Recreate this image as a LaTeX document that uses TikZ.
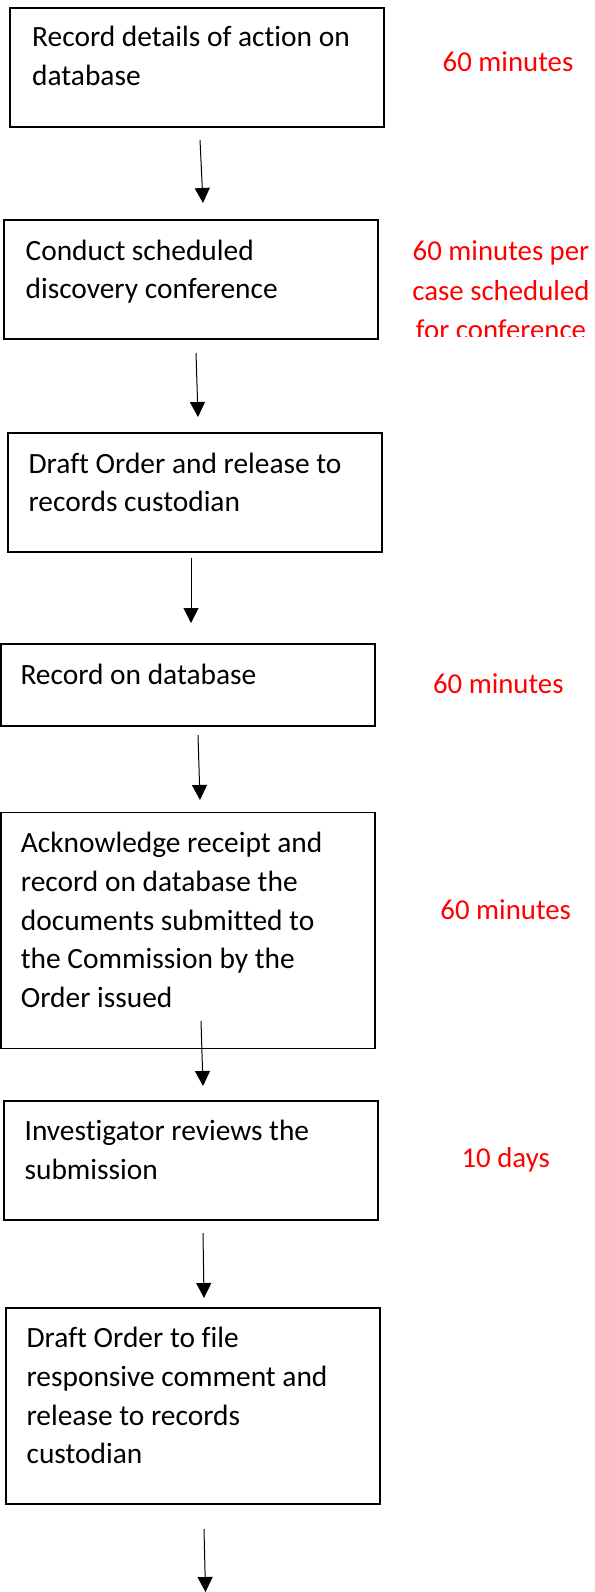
\documentclass[tikz,border=0pt]{standalone}
\usepackage{fontspec}
\setmainfont{Carlito}[Ligatures=CommonOff]
\usetikzlibrary{arrows.meta,calc}
\definecolor{redtxt}{RGB}{255,0,0}
\tikzset{
  stepbox/.style={draw=black, line width=1.6pt, rectangle, inner sep=0pt, outer sep=0pt, minimum width=374pt, anchor=north west},
  lbl/.style={font=\fontsize{29.4}{38.8}\selectfont, align=left, inner sep=0pt, anchor=base west, text=black},
  timelbl/.style={font=\fontsize{28.8}{39.5}\selectfont, align=center, inner sep=0pt, anchor=base, text=redtxt},
  flow/.style={line width=1pt, -{Triangle[length=15pt,width=15pt]}}
}
\begin{document}
\begin{tikzpicture}[x=1pt,y=-1pt]
\useasboundingbox (0,0) rectangle (594,1592);
% boxes
\node[stepbox, minimum height=119pt] (b1) at (10,8) {};
\node[stepbox, minimum height=119pt] (b2) at (4,220) {};
\node[stepbox, minimum height=119pt] (b3) at (8,433) {};
\node[stepbox, minimum height=82pt]  (b4) at (1,644) {};
\node[stepbox, minimum height=236pt] (b5) at (1,812.5) {};
\node[stepbox, minimum height=119pt] (b6) at (4,1101) {};
\node[stepbox, minimum height=196pt] (b7) at (6,1308) {};
% box texts (anchor = baseline of last line)
\node[lbl] (t1) at ($(b1.north west)+(22,77.8)$) {Record details of action on\\database};
\node[lbl] (t2) at ($(b2.north west)+(21.4,78.8)$) {Conduct scheduled\\discovery conference};
\node[lbl] (t3) at ($(b3.north west)+(20.4,78.8)$) {Draft Order and release to\\records custodian};
\node[lbl] (t4) at ($(b4.north west)+(19.3,40.5)$) {Record on database};
\node[lbl] (t5) at ($(b5.north west)+(19.7,195.2)$) {Acknowledge receipt and\\record on database the\\documents submitted to\\the Commission by the\\Order issued};
\node[lbl] (t6) at ($(b6.north west)+(20.4,78.3)$) {Investigator reviews the\\submission};
\node[lbl] (t7) at ($(b7.north west)+(20.4,155.9)$) {Draft Order to file\\responsive comment and\\release to records\\custodian};
% time labels
\node[timelbl] (r1) at (508,71.7) {60 minutes};
\begin{scope}
  \clip (385,200) rectangle (594,336);
  \node[timelbl] (r2) at (501,339.5) {60 minutes per\\case scheduled\\for conference};
\end{scope}
\node[timelbl] (r4) at (498.3,693.3) {60 minutes};
\node[timelbl] (r5) at (505.7,919) {60 minutes};
\node[timelbl] (r6) at (505.7,1167.5) {10 days};
% arrows
\coordinate (a1s) at (200,140);   \coordinate (a1e) at (203,203);
\coordinate (a2s) at (196,353);   \coordinate (a2e) at (198,417);
\coordinate (a3s) at (191,558);   \coordinate (a3e) at (191,623);
\coordinate (a4s) at (198,735);   \coordinate (a4e) at (200,800);
\coordinate (a5s) at (201,1021);  \coordinate (a5e) at (203,1086);
\coordinate (a6s) at (203,1233);  \coordinate (a6e) at (204,1298);
\coordinate (a7s) at (204,1529);  \coordinate (a7e) at (205.5,1592);
\draw[flow] (a1s) -- (a1e);
\draw[flow] (a2s) -- (a2e);
\draw[flow] (a3s) -- (a3e);
\draw[flow] (a4s) -- (a4e);
\draw[flow] (a5s) -- (a5e);
\draw[flow] (a6s) -- (a6e);
\draw[flow] (a7s) -- (a7e);
\end{tikzpicture}
\end{document}
